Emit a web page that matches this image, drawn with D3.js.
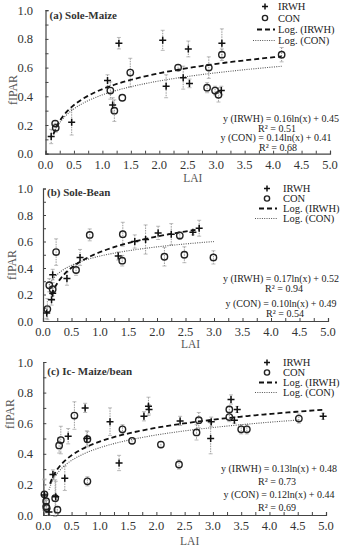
<!DOCTYPE html>
<html><head><meta charset="utf-8">
<script src="https://cdn.jsdelivr.net/npm/d3@7"></script>
<style>body{margin:0;background:#fff}svg{display:block}text{font-family:"Liberation Serif","Times New Roman",serif}</style>
</head><body>
<script>
// ---- data ----
const xTicks = [0,0.5,1,1.5,2,2.5,3,3.5,4,4.5,5];
const yTicks = [0,0.2,0.4,0.6,0.8,1.0];
const legendLabels = ["IRWH","CON","Log. (IRWH)","Log. (CON)"];
const panelTitles = ["(a) Sole-Maize","(b) Sole-Bean","(c) Ic- Maize/bean"];

// panel a: Sole-Maize
const aIrwhLAI = [0.10,0.46,1.09,1.18,1.29,2.06,2.12,2.42,2.51,2.53,3.09,3.10];
const aIrwhF   = [0.12,0.22,0.51,0.34,0.77,0.79,0.47,0.53,0.73,0.49,0.44,0.77];
const aIrwhErr = [0.05,0.09,0.04,0.05,0.04,0.07,0.08,0.08,0.055,0.03,0.03,0.10];
const aConLAI  = [0.17,0.18,1.14,1.21,1.35,1.49,2.33,2.84,2.87,2.98,3.04,3.10,4.15];
const aConF    = [0.21,0.18,0.44,0.30,0.39,0.565,0.60,0.46,0.60,0.44,0.41,0.69,0.69];
const aConErr  = [0.02,0.03,0.06,0.075,0.0,0.10,0.02,0.035,0.075,0.03,0.05,0.04,0.05];
const aCoef = {irwh:[0.16,0.45], con:[0.14,0.41]};
const aRange = {irwh:[0.14,4.15], con:[0.14,4.15]};
const aEq = ["y (IRWH) = 0.16ln(x) + 0.45","R² = 0.51","y (CON) = 0.14ln(x) + 0.41","R² = 0.68"];

// panel b: Sole-Bean
const bIrwhLAI = [0.065,0.15,0.17,0.17,0.42,0.65,1.32,1.61,1.80,2.02,2.25,2.63,2.74];
const bIrwhF   = [0.06,0.16,0.21,0.35,0.32,0.48,0.49,0.60,0.615,0.665,0.655,0.67,0.70];
const bIrwhErr = [0.04,0.04,0.04,0.04,0.05,0.06,0.03,0.05,0.11,0.05,0.08,0.02,0.06];
const bConLAI  = [0.076,0.11,0.17,0.23,0.58,0.82,1.40,1.39,2.13,2.40,2.48,2.99];
const bConF    = [0.09,0.27,0.24,0.52,0.385,0.65,0.655,0.455,0.485,0.645,0.50,0.48];
const bConErr  = [0.08,0.05,0.05,0.10,0.04,0.045,0.09,0.04,0.07,0.03,0.06,0.05];
const bCoef = {irwh:[0.17,0.52], con:[0.10,0.49]};
const bRange = {irwh:[0.15,2.74], con:[0.11,3.0]};
const bEq = ["y (IRWH) = 0.17ln(x) + 0.52","R² = 0.94","y (CON) = 0.10ln(x) + 0.49","R² = 0.54"];

// panel c: Ic- Maize/bean
const cIrwhLAI = [0.02,0.10,0.17,0.22,0.38,0.44,0.74,0.77,1.18,1.34,1.78,1.86,1.87,2.42,2.96,2.97,3.32,3.38,3.43,4.95];
const cIrwhF   = [0.13,0.02,0.265,0.12,0.24,0.515,0.70,0.50,0.61,0.34,0.645,0.71,0.69,0.615,0.50,0.61,0.755,0.62,0.69,0.645];
const cIrwhErr = [0.10,0.02,0.03,0.10,0.08,0.05,0.03,0.05,0.09,0.05,0.03,0.06,0.03,0.03,0.10,0.03,0.03,0.02,0.02,0.02];
const cConLAI  = [0.02,0.05,0.05,0.06,0.21,0.25,0.28,0.31,0.55,0.78,0.78,1.40,1.57,2.08,2.40,2.71,2.75,3.29,3.29,3.50,3.60,4.52];
const cConF    = [0.135,0.09,0.055,0.045,0.11,0.035,0.455,0.49,0.65,0.22,0.495,0.56,0.485,0.46,0.33,0.54,0.62,0.69,0.64,0.56,0.56,0.63];
const cConErr  = [0.10,0.05,0.04,0.03,0.12,0.02,0.05,0.09,0.09,0.03,0.05,0.03,0.02,0.02,0.03,0.05,0.05,0.02,0.03,0.03,0.03,0.03];
const cCoef = {irwh:[0.13,0.48], con:[0.12,0.44]};
const cRange = {irwh:[0.12,4.95], con:[0.10,4.52]};
const cEq = ["y (IRWH) = 0.13ln(x) + 0.48","R² = 0.73","y (CON) = 0.12ln(x) + 0.44","R² = 0.69"];

// ---- layout ----
const W = 348, H = 550;
const svg = d3.select("body").append("svg").attr("width", W).attr("height", H);

const panels = [
  {x0:45.5,x1:330,y0:153.7,y1:10.2, title:panelTitles[0], titleY:19,
   irwh:[aIrwhLAI,aIrwhF,aIrwhErr], con:[aConLAI,aConF,aConErr], coef:aCoef, range:aRange, eq:aEq,
   eqY:[122,131.5,141,151], eqX:[281,277,276,278], legX:265, legTX:278, legY:[10,21.5,33,44],
   yLab:[12.7,90], laiY:182},
  {x0:43,x1:328,y0:321,y1:188.5, title:panelTitles[1], titleY:196,
   irwh:[bIrwhLAI,bIrwhF,bIrwhErr], con:[bConLAI,bConF,bConErr], coef:bCoef, range:bRange, eq:bEq,
   eqY:[282,292,307,317], eqX:[281,284,281,285], legX:267, legTX:283, legY:[192,202,212,222],
   yLab:[11.7,265], laiY:348},
  {x0:43.3,x1:326,y0:515,y1:362, title:panelTitles[2], titleY:375,
   irwh:[cIrwhLAI,cIrwhF,cIrwhErr], con:[cConLAI,cConF,cConErr], coef:cCoef, range:cRange, eq:cEq,
   eqY:[472,485,498,511], eqX:[279,277,279,277], legX:267, legTX:283, legY:[366,376,386,396],
   yLab:[10,414], laiY:545}
];

function plusPath(s){ return `M${-s},0H${s}M0,${-s}V${s}`; }

panels.forEach(p => {
  const x = d3.scaleLinear().domain([0,5]).range([p.x0,p.x1]);
  const y = d3.scaleLinear().domain([0,1]).range([p.y0,p.y1]);
  const g = svg.append("g");

  // axes
  const xAxis = d3.axisBottom(x).tickValues(d3.range(0,5.001,0.25)).tickSize(-3).tickFormat("");
  g.append("g").attr("transform",`translate(0,${p.y0})`).call(xAxis)
    .call(s=>{s.select(".domain").attr("stroke","#444").attr("stroke-width",1.2);s.selectAll(".tick line").attr("stroke","#444");});
  const yAxis = d3.axisLeft(y).tickValues(d3.range(0,1.001,0.1)).tickSize(-3).tickFormat("");
  g.append("g").attr("transform",`translate(${p.x0},0)`).call(yAxis)
    .call(s=>{s.select(".domain").attr("stroke","#444").attr("stroke-width",1.2);s.selectAll(".tick line").attr("stroke","#444");});

  g.selectAll(".xl").data(xTicks).enter().append("text")
    .attr("x",d=>x(d)).attr("y",p.y0+15).attr("text-anchor","middle")
    .attr("font-size",12.5).attr("fill","#333").text(d=>d.toFixed(1));
  g.selectAll(".yl").data(yTicks).enter().append("text")
    .attr("x",33).attr("y",d=>y(d)+4.5).attr("text-anchor","end")
    .attr("font-size",12.5).attr("fill","#333").text(d=>d.toFixed(1));

  g.append("text").attr("x",(p.x0+p.x1)/2+5).attr("y",p.laiY).attr("text-anchor","middle")
    .attr("font-size",11.5).attr("fill","#555").text("LAI");
  g.append("text").attr("transform",`translate(${p.yLab[0]+4},${p.yLab[1]}) rotate(-90)`)
    .attr("text-anchor","middle").attr("font-size",12).attr("fill","#555").text("fIPAR");

  g.append("text").attr("x",p.x0+4).attr("y",p.titleY).attr("font-size",11)
    .attr("font-weight","bold").attr("fill","#333").text(p.title);

  // error bars
  const drawErr = (arr) => {
    const [lx,ly,le] = arr;
    lx.forEach((v,i)=>{
      if(!le[i]) return;
      const cx = x(v), ya = y(ly[i]+le[i]), yb = y(ly[i]-le[i]);
      g.append("line").attr("x1",cx).attr("x2",cx).attr("y1",ya).attr("y2",yb)
        .attr("stroke","#999").attr("stroke-width",1).attr("stroke-dasharray","1.5,1");
      [ya,yb].forEach(yy=>g.append("line").attr("x1",cx-2).attr("x2",cx+2).attr("y1",yy).attr("y2",yy)
        .attr("stroke","#aaa").attr("stroke-width",0.8));
    });
  };
  drawErr(p.irwh); drawErr(p.con);

  // trend lines
  const line = d3.line().x(d=>x(d[0])).y(d=>y(d[1]));
  const trend = (c,r)=> d3.range(0,61).map(i=>{const t=r[0]+(r[1]-r[0])*Math.pow(i/60,2);return [t,c[0]*Math.log(t)+c[1]];});
  g.append("path").attr("d",line(trend(p.coef.con,p.range.con))).attr("fill","none")
    .attr("stroke","#555").attr("stroke-width",1.1).attr("stroke-dasharray","1,1.3");
  g.append("path").attr("d",line(trend(p.coef.irwh,p.range.irwh))).attr("fill","none")
    .attr("stroke","#111").attr("stroke-width",1.8).attr("stroke-dasharray","5,3");

  // points
  p.con[0].forEach((v,i)=>g.append("circle").attr("cx",x(v)).attr("cy",y(p.con[1][i])).attr("r",3.2)
    .attr("fill","none").attr("stroke","#222").attr("stroke-width",1.4));
  p.irwh[0].forEach((v,i)=>g.append("path").attr("transform",`translate(${x(v)},${y(p.irwh[1][i])})`)
    .attr("d",plusPath(3.5)).attr("stroke","#111").attr("stroke-width",1.5));

  // legend
  const L = g.append("g");
  L.append("path").attr("transform",`translate(${p.legX},${p.legY[0]-3.5})`).attr("d",plusPath(3)).attr("stroke","#111").attr("stroke-width",1.5);
  L.append("circle").attr("cx",p.legX).attr("cy",p.legY[1]-3.5).attr("r",2.6).attr("fill","none").attr("stroke","#222").attr("stroke-width",1.4);
  L.append("line").attr("x1",p.legX-8).attr("x2",p.legX+10).attr("y1",p.legY[2]-3.5).attr("y2",p.legY[2]-3.5)
    .attr("stroke","#111").attr("stroke-width",1.8).attr("stroke-dasharray","5,3");
  L.append("line").attr("x1",p.legX-12).attr("x2",p.legX+10).attr("y1",p.legY[3]-3.5).attr("y2",p.legY[3]-3.5)
    .attr("stroke","#555").attr("stroke-width",1.1).attr("stroke-dasharray","1,1.3");
  legendLabels.forEach((t,i)=>L.append("text").attr("x",p.legTX).attr("y",p.legY[i])
    .attr("font-size",10.5).attr("fill","#222").text(t));

  // equations
  p.eq.forEach((t,i)=>g.append("text").attr("x",p.eqX[i]).attr("y",p.eqY[i]).attr("text-anchor","middle")
    .attr("font-size",10).attr("fill","#222").text(t));
});
</script>
</body></html>
